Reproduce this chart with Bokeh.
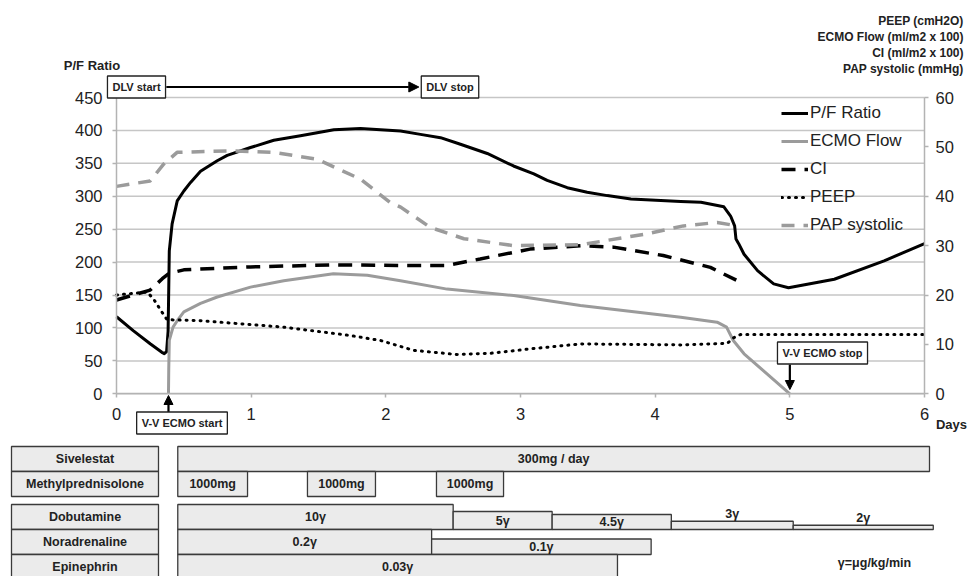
from bokeh.plotting import figure
from bokeh.models import (Range1d, LinearAxis, Legend, LegendItem, Label, Arrow,
                          NormalHead, FixedTicker)
from bokeh.layouts import column
from bokeh.embed import file_html
from bokeh.resources import INLINE
from bokeh.core.properties import value

FONT = "Liberation Sans"

# ---------------- data ----------------
day_ticks = [0, 1, 2, 3, 4, 5, 6]
left_ticks = [0, 50, 100, 150, 200, 250, 300, 350, 400, 450]
right_ticks = [0, 10, 20, 30, 40, 50, 60]

# P/F ratio (left axis)
pf_day = [0, 0.124, 0.25, 0.337, 0.355, 0.372, 0.383, 0.388, 0.392, 0.413, 0.451, 0.5, 0.55,
          0.624, 0.748, 0.822, 0.995, 1.168, 1.366, 1.614, 1.812, 2.109, 2.257, 2.406,
          2.554, 2.753, 2.948, 3.099, 3.198, 3.347, 3.495, 3.644, 3.82,
          4.19, 4.34, 4.51, 4.56, 4.59, 4.6, 4.62, 4.66, 4.76, 4.88, 4.99, 5.33, 5.7, 6.0]
pf_val = [117, 96, 76, 63, 61, 64, 95, 160, 217, 258, 293, 308, 321,
          338, 354, 362, 374, 385, 392, 401, 403, 399, 394, 389,
          379, 365, 346, 334, 324, 313, 306, 301, 296,
          292, 291, 284, 270, 255, 235, 228, 212, 187, 167, 161, 174, 202, 228]

# ECMO flow (right axis units)
ecmo_day = [0.386, 0.388, 0.392, 0.42, 0.451, 0.5, 0.624, 0.748, 0.995, 1.242, 1.61, 1.862,
            2.109, 2.455, 2.95, 3.445, 4.19, 4.46, 4.53, 4.58, 4.66, 5.0]
ecmo_val = [0, 5, 10.8, 13.5, 14.8, 16.6, 18.3, 19.6, 21.6, 22.9, 24.3, 24.0,
            22.9, 21.2, 19.9, 17.9, 15.5, 14.5, 13.5, 10.8, 8.1, 0]

# CI (right axis units)
ci_day = [0, 0.25, 0.34, 0.39, 0.5, 0.995, 1.61, 2.11, 2.455, 2.7, 3.07, 3.45, 3.69,
          4.06, 4.41, 4.61]
ci_val = [19.0, 21.0, 23.3, 24.4, 25.1, 25.7, 26.1, 26.0, 26.0, 27.3, 29.3, 30.0, 29.7,
          28.0, 25.6, 22.9]

# PEEP (right axis units)
peep_day = [0, 0.228, 0.275, 0.339, 0.376, 0.624, 1.242, 1.738, 1.96, 2.205, 2.53, 2.777,
            3.074, 3.445, 4.19, 4.535, 4.585, 4.633, 6.0]
peep_val = [20.0, 20.6, 19.2, 16.5, 15.0, 14.8, 13.5, 11.8, 10.8, 8.8, 7.95, 8.2,
            9.1, 10.1, 9.9, 10.2, 11.4, 12.0, 12.0]

# PAP systolic (right axis units)
pap_day = [0, 0.25, 0.35, 0.45, 0.87, 1.17, 1.49, 1.81, 2.03, 2.11, 2.33, 2.58, 2.95,
           3.45, 3.94, 4.21, 4.46, 4.61]
pap_val = [42.0, 43.1, 46.5, 48.9, 49.2, 48.9, 47.5, 43.5, 38.8, 37.8, 33.7, 31.4, 30.0,
           30.2, 32.4, 34.0, 34.7, 34.0]

series_names = ["P/F Ratio", "ECMO Flow", "CI", "PEEP", "PAP systolic"]
right_title = ["PEEP (cmH2O)", "ECMO Flow (ml/m2 x 100)", "CI (ml/m2 x 100)", "PAP systolic (mmHg)"]

# Events (days)
dlv_start_day = 0.37
dlv_stop_day = 2.245
ecmo_start_day = 0.386
ecmo_stop_day = 5.0

# Treatment table
drugs = ["Sivelestat", "Methylprednisolone", "Dobutamine", "Noradrenaline", "Epinephrin"]
dose_drug = ["Sivelestat", "Methylprednisolone", "Methylprednisolone", "Methylprednisolone",
             "Dobutamine", "Dobutamine", "Dobutamine", "Dobutamine", "Dobutamine",
             "Noradrenaline", "Noradrenaline", "Epinephrin"]
dose_start = [0.455, 0.455, 1.418, 2.376, 0.455, 2.5, 3.235, 4.12, 5.025, 0.455, 2.34, 0.455]
dose_end = [6.037, 0.973, 1.923, 2.874, 2.5, 3.235, 4.12, 5.025, 6.065, 2.34, 3.97, 3.72]
dose_label = ["300mg / day", "1000mg", "1000mg", "1000mg", "10γ", "5γ", "4.5γ", "3γ", "2γ",
              "0.2γ", "0.1γ", "0.03γ"]

# ---------------- layout / style ----------------
W = 975
PX = 134.67                 # px per day
X0 = 116                    # pixel of day 0
Y0, YTOP = 393.3, 97.0      # pixel of 0 and 450 on the left axis
YS = 450 / (Y0 - YTOP)      # data units per px
H1 = 438
GRAY = "#9b9b9b"
AX = "#b3b3b3"
TXT = "#222222"

def xpos(px):
    return (px - X0) / PX

def ypos(py):
    return (Y0 - py) * YS

p = figure(width=W, height=H1, x_range=Range1d(xpos(0), xpos(W)),
           y_range=Range1d(ypos(H1), ypos(0)),
           output_backend="svg", toolbar_location=None, title=None,
           x_axis_type=None, y_axis_type=None,
           min_border_left=0, min_border_right=0, min_border_top=0, min_border_bottom=0)
p.outline_line_color = None
p.xgrid.visible = False
p.ygrid.visible = False
p.extra_y_ranges = {"r": Range1d(ypos(H1) / 7.5, ypos(0) / 7.5)}

# horizontal grid lines at the left-axis ticks, spanning days 0..6
p.segment(x0=[day_ticks[0]] * len(left_ticks), x1=[day_ticks[-1]] * len(left_ticks),
          y0=left_ticks, y1=left_ticks, line_color="#c6c6c6", line_width=1.5)

xaxis = LinearAxis(ticker=FixedTicker(ticks=day_ticks), bounds=(0, 6), fixed_location=0)
laxis = LinearAxis(ticker=FixedTicker(ticks=left_ticks), bounds=(0, 450), fixed_location=0)
raxis = LinearAxis(y_range_name="r", ticker=FixedTicker(ticks=right_ticks), bounds=(0, 60),
                   fixed_location=6)
p.add_layout(xaxis, "below")
p.add_layout(laxis, "left")
p.add_layout(raxis, "right")

for ax in [xaxis, laxis, raxis]:
    ax.axis_line_color = AX
    ax.axis_line_width = 1.5
    ax.major_tick_line_color = AX
    ax.major_tick_line_width = 1.5
    ax.major_tick_out = 4
    ax.major_tick_in = 0
    ax.minor_tick_line_color = None
    ax.major_label_text_font = FONT
    ax.major_label_text_font_size = "16.5px"
    ax.major_label_text_color = TXT
laxis.major_label_standoff = 10
xaxis.major_label_standoff = 10
raxis.major_label_standoff = 7

r_pf = p.line(pf_day, pf_val, line_color="black", line_width=3, line_join="round")
r_ecmo = p.line(ecmo_day, ecmo_val, y_range_name="r", line_color=GRAY, line_width=3,
                line_join="round")
r_ci = p.line(ci_day, ci_val, y_range_name="r", line_color="black", line_width=3.5,
              line_dash="14 9")
r_peep = p.line(peep_day, peep_val, y_range_name="r", line_color="black", line_width=3,
                line_dash="1 6", line_cap="round")
r_pap = p.line(pap_day, pap_val, y_range_name="r", line_color=GRAY, line_width=3.5,
               line_dash="13 9")

legend = Legend(items=[LegendItem(label=n, renderers=[r]) for n, r in
                       zip(series_names, [r_pf, r_ecmo, r_ci, r_peep, r_pap])],
                location=(781, H1 - 239), padding=0, margin=0, spacing=0,
                glyph_width=27, glyph_height=28, label_height=28, label_standoff=2,
                label_text_font=FONT, label_text_font_size="17px", label_text_color=TXT,
                border_line_color=None, background_fill_alpha=0)
p.add_layout(legend)

p.add_layout(Label(x=xpos(91.5), y=ypos(64.7), text="P/F Ratio", text_align="center",
                   text_baseline="middle", text_font=FONT, text_font_style="bold",
                   text_font_size="13px", text_color=TXT))
for i, line in enumerate(right_title):
    p.add_layout(Label(x=xpos(963), y=ypos(20.5 + 16 * i), text=line, text_align="right",
                       text_baseline="middle", text_font=FONT, text_font_style="bold",
                       text_font_size="12px", text_color=TXT))
p.add_layout(Label(x=xpos(951), y=ypos(423.5), text="Days", text_align="center",
                   text_baseline="middle", text_font=FONT, text_font_style="bold",
                   text_font_size="13px", text_color=TXT))

def box_label(x, y, text):
    return Label(x=x, y=y, text=text, text_align="center", text_baseline="middle",
                 text_font=FONT, text_font_style="bold", text_font_size="11px",
                 text_color=TXT, padding=5, border_line_color="#222222",
                 border_line_width=1.3, background_fill_color="white")

y_dlv = ypos(86.5)
p.add_layout(Arrow(x_start=dlv_start_day, y_start=y_dlv, x_end=dlv_stop_day, y_end=y_dlv,
                   line_width=2.2, line_color="black",
                   end=NormalHead(size=10, fill_color="black", line_color="black")))
p.add_layout(box_label(xpos(136), y_dlv, "DLV start"))
p.add_layout(box_label(xpos(449.5), y_dlv, "DLV stop"))

p.add_layout(Arrow(x_start=ecmo_start_day, y_start=ypos(412), x_end=ecmo_start_day,
                   y_end=ypos(395), line_width=2.2, line_color="black",
                   end=NormalHead(size=9, fill_color="black", line_color="black")))
p.add_layout(box_label(xpos(181.5), ypos(422.5), "V-V ECMO start"))

p.add_layout(Arrow(x_start=ecmo_stop_day, y_start=ypos(364), x_end=ecmo_stop_day,
                   y_end=ypos(389), line_width=2.2, line_color="black",
                   end=NormalHead(size=9, fill_color="black", line_color="black")))
p.add_layout(box_label(xpos(822), ypos(352.5), "V-V ECMO stop"))

# ---------------- treatment table ----------------
H2 = 138
ROW = 25.0
top_off = 8 / ROW
t = figure(width=W, height=H2, x_range=Range1d(xpos(0), xpos(W)),
           y_range=Range1d(H2 / ROW - top_off, -top_off),
           output_backend="svg", toolbar_location=None, title=None,
           x_axis_type=None, y_axis_type=None,
           min_border_left=0, min_border_right=0, min_border_top=0, min_border_bottom=0)
t.outline_line_color = None
t.xgrid.visible = False
t.ygrid.visible = False

row_top = {"Sivelestat": 0, "Methylprednisolone": 1, "Dobutamine": 2.32,
           "Noradrenaline": 3.32, "Epinephrin": 4.32}
bar_frac = [1, 1, 1, 1, 1, 0.72, 0.6, 0.33, 0.17, 1, 0.62, 1]
label_above = [False] * 7 + [True, True] + [False] * 3

FILL = "#ebebeb"
EDGE = "#3a3a3a"
lab_l, lab_r = xpos(11), xpos(158)
t.quad(left=[lab_l] * len(drugs), right=[lab_r] * len(drugs),
       top=[row_top[d] for d in drugs], bottom=[row_top[d] + 1 for d in drugs],
       fill_color=FILL, line_color=EDGE, line_width=1.3)
t.text(x=[(lab_l + lab_r) / 2] * len(drugs), y=[row_top[d] + 0.5 for d in drugs],
       text=drugs, text_align="center", text_baseline="middle",
       text_font=value(FONT), text_font_style="bold", text_font_size="12.5px",
       text_color=TXT)

bt = [row_top[d] + 1 - f for d, f in zip(dose_drug, bar_frac)]
bb = [row_top[d] + 1 for d in dose_drug]
t.quad(left=dose_start, right=dose_end, top=bt, bottom=bb,
       fill_color=FILL, line_color=EDGE, line_width=1.3)
lx = [(s + e) / 2 for s, e in zip(dose_start, dose_end)]
ly = [(a - 0.02) if up else (a + b) / 2 for a, b, up in zip(bt, bb, label_above)]
lb = ["bottom" if up else "middle" for up in label_above]
t.text(x=lx, y=ly, text=dose_label, text_align="center", text_baseline=lb,
       text_font=value(FONT), text_font_style="bold", text_font_size="12.5px",
       text_color=TXT)
t.add_layout(Label(x=xpos(874), y=(562.7 - 446) / ROW, text="γ=μg/kg/min",
                   text_align="center", text_baseline="middle", text_font=FONT,
                   text_font_style="bold", text_font_size="12.5px", text_color=TXT))

layout = column(p, t, spacing=0)
open("out.html", "w").write(file_html(layout, INLINE))
